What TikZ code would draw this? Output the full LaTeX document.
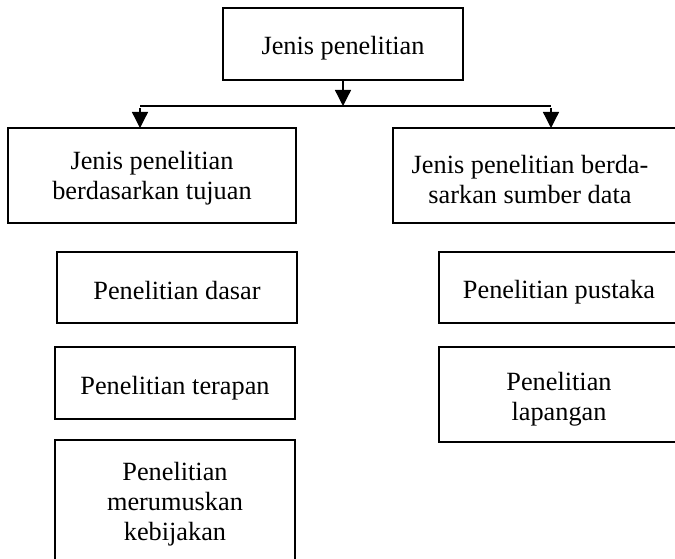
\documentclass[tikz,border=0pt]{standalone}
\usepackage{fontspec}
\setmainfont{Liberation Serif}
\usetikzlibrary{arrows.meta}
\begin{document}
\begin{tikzpicture}[x=1pt,y=-1pt,
  box/.style={draw, line width=1.6pt, inner sep=0pt, outer sep=0pt, anchor=north west},
  txt/.style={inner sep=0pt, align=center, font=\fontsize{26.3}{30}\selectfont},
  conn/.style={line width=1.3pt},
  arr/.style={line width=1.3pt, -{Triangle[length=16pt,width=16pt]}}]
\useasboundingbox (0,0) rectangle (675,559);
\clip (0,0) rectangle (675,559);
% boxes
\node[box, minimum width=240pt, minimum height=72pt] (top) at (223,8) {};
\node[txt] (topt) at (343,48) {Jenis penelitian};
\node[box, minimum width=288pt, minimum height=95pt] (lhead) at (8,128) {};
\node[txt] (lheadt) at (152,178.5) {Jenis penelitian\\berdasarkan tujuan};
\node[box, minimum width=310pt, minimum height=95pt] (rhead) at (393,128) {};
\node[txt] (rheadt) at (530,180) {Jenis penelitian berda-\\sarkan sumber data};
\node[box, minimum width=240pt, minimum height=71pt] (dasar) at (57,252) {};
\node[txt] (dasart) at (177,291) {Penelitian dasar};
\node[box, minimum width=240pt, minimum height=72pt] (terapan) at (55,347) {};
\node[txt] (terapant) at (175,388) {Penelitian terapan};
\node[box, minimum width=240pt, minimum height=150pt] (kebij) at (55,440) {};
\node[txt] (kebijt) at (175,504) {Penelitian\\merumuskan\\kebijakan};
\node[box, minimum width=270pt, minimum height=71pt] (pustaka) at (439,252) {};
\node[txt] (pustakat) at (559,292) {Penelitian pustaka};
\node[box, minimum width=270pt, minimum height=95pt] (lapangan) at (439,347) {};
\node[txt] (lapangant) at (559,399) {Penelitian\\lapangan};
% connectors
\coordinate (j) at (343,106);
\coordinate (jl) at (140,106);
\coordinate (jr) at (551,106);
\draw[arr] (top.south) -- (j);
\draw[conn] (jl) -- (jr);
\draw[arr] ([yshift=-2pt]jl) -- (jl |- lhead.north);
\draw[arr] ([yshift=-2pt]jr) -- (jr |- rhead.north);
\end{tikzpicture}
\end{document}
